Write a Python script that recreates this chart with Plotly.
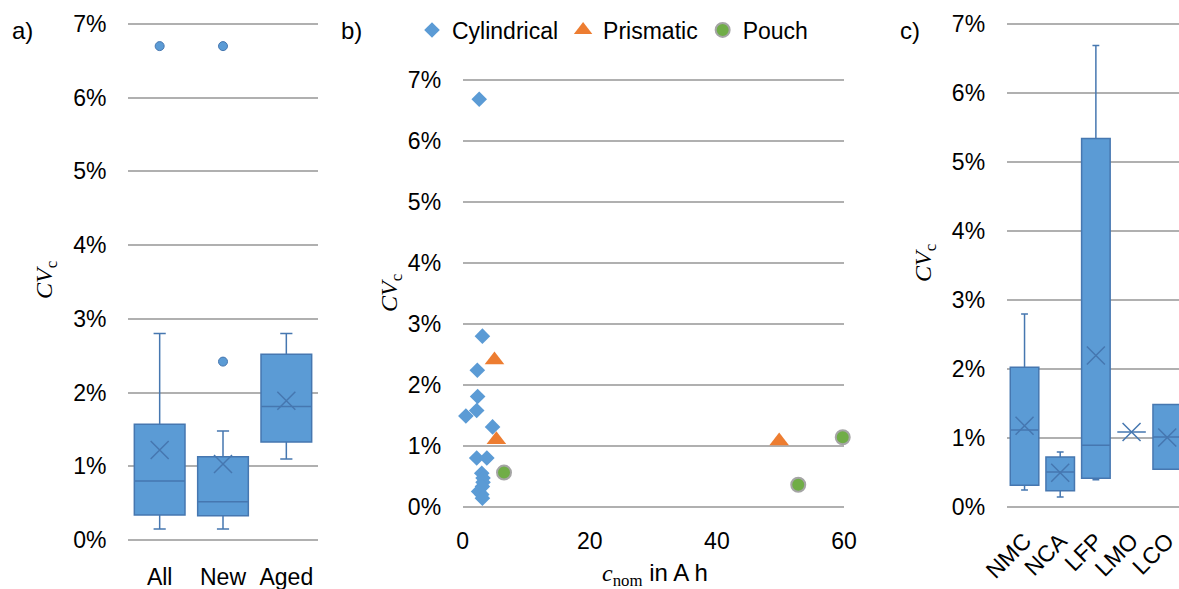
import plotly.graph_objects as go

# ---- Panel a: CV_c by cell state (box statistics, in %) ----
state_cats = ["All", "New", "Aged"]
state_q1 = [0.34, 0.33, 1.33]
state_median = [0.80, 0.52, 1.81]
state_q3 = [1.57, 1.13, 2.52]
state_low = [0.15, 0.15, 1.10]
state_high = [2.80, 1.48, 2.80]
state_mean = [1.22, 1.03, 1.89]
state_outlier_cat = ["All", "New", "New"]
state_outlier_val = [6.70, 2.42, 6.70]

# ---- Panel b: CV_c vs nominal capacity by cell format ----
cyl_cap = [2.6, 3.1, 2.3, 2.35, 2.2, 0.5, 4.7, 2.2, 3.8, 3.0, 3.2, 3.2, 3.1, 2.5, 3.0, 3.1]
cyl_cv = [6.69, 2.80, 2.24, 1.81, 1.58, 1.49, 1.31, 0.80, 0.80, 0.55, 0.47, 0.40, 0.33, 0.25, 0.20, 0.14]
pri_cap = [5.0, 5.3, 49.8]
pri_cv = [2.41, 1.10, 1.08]
pou_cap = [6.5, 52.8, 59.8]
pou_cv = [0.56, 0.36, 1.14]

# ---- Panel c: CV_c by cathode chemistry (box statistics, in %) ----
chem_cats = ["NMC", "NCA", "LFP", "LMO", "LCO"]
chem_q1 = [0.32, 0.24, 0.42, 1.09, 0.55]
chem_median = [1.12, 0.51, 0.90, 1.09, 1.02]
chem_q3 = [2.03, 0.73, 5.34, 1.09, 1.49]
chem_low = [0.25, 0.15, 0.40, 1.09, 0.55]
chem_high = [2.80, 0.80, 6.69, 1.09, 1.49]
chem_mean = [1.18, 0.50, 2.20, 1.09, 1.01]

y_ticks = [0, 1, 2, 3, 4, 5, 6, 7]
y_tick_text = ["0%", "1%", "2%", "3%", "4%", "5%", "6%", "7%"]
cap_ticks = [0, 20, 40, 60]

BLUE = "#5B9BD5"
BLUE_LINE = "#4677B0"
ORANGE = "#ED7D31"
GREEN = "#70AD47"
GRID = "#B0B0B0"
SANS = "Arial, Liberation Sans, sans-serif"
SERIF = "Liberation Serif, Times New Roman, serif"
W, H = 1179, 589
FS = 23
PAD = 0.03  # small range padding so the 0% and 7% grid lines are drawn


def px_x(v):
    return v / W


def px_y(v):
    return 1 - v / H


def y_domain(py0, py7):
    """Domain placing 0% at pixel row py0 and 7% at py7, with padded range."""
    per = (py0 - py7) / 7.0
    return [px_y(py0 + PAD * per), px_y(py7 - PAD * per)]


fig = go.Figure()

# panel a boxes
fig.add_trace(go.Box(
    x=state_cats, q1=state_q1, median=state_median, q3=state_q3,
    lowerfence=state_low, upperfence=state_high,
    boxpoints=False, width=0.8, whiskerwidth=0.24,
    fillcolor=BLUE, line=dict(color=BLUE_LINE, width=1.5),
    xaxis="x", yaxis="y", showlegend=False, hoverinfo="skip"))
fig.add_trace(go.Scatter(
    x=state_cats, y=state_mean, mode="markers",
    marker=dict(symbol="x-thin-open", size=18, color=BLUE_LINE,
                line=dict(color=BLUE_LINE, width=1.5)),
    xaxis="x", yaxis="y", showlegend=False, cliponaxis=False))
fig.add_trace(go.Scatter(
    x=state_outlier_cat, y=state_outlier_val, mode="markers",
    marker=dict(symbol="circle", size=9, color=BLUE, line=dict(color=BLUE_LINE, width=1)),
    xaxis="x", yaxis="y", showlegend=False, cliponaxis=False))

# panel b scatter
fig.add_trace(go.Scatter(
    x=cyl_cap, y=cyl_cv, mode="markers", name="Cylindrical",
    marker=dict(symbol="diamond", size=12, color=BLUE),
    xaxis="x2", yaxis="y2", cliponaxis=False))
fig.add_trace(go.Scatter(
    x=pri_cap, y=pri_cv, mode="markers", name="Prismatic",
    marker=dict(symbol="triangle-up", size=17, color=ORANGE),
    xaxis="x2", yaxis="y2", cliponaxis=False))
fig.add_trace(go.Scatter(
    x=pou_cap, y=pou_cv, mode="markers", name="Pouch",
    marker=dict(symbol="circle", size=14, color=GREEN, line=dict(color="#A5A5A5", width=2)),
    xaxis="x2", yaxis="y2", cliponaxis=False))

# panel c boxes
fig.add_trace(go.Box(
    x=chem_cats, q1=chem_q1, median=chem_median, q3=chem_q3,
    lowerfence=chem_low, upperfence=chem_high,
    boxpoints=False, width=0.8, whiskerwidth=0.24,
    fillcolor=BLUE, line=dict(color=BLUE_LINE, width=1.5),
    xaxis="x3", yaxis="y3", showlegend=False, hoverinfo="skip"))
fig.add_trace(go.Scatter(
    x=chem_cats, y=chem_mean, mode="markers",
    marker=dict(symbol="x-thin-open", size=18, color=BLUE_LINE,
                line=dict(color=BLUE_LINE, width=1.5)),
    xaxis="x3", yaxis="y3", showlegend=False))

tick_font = dict(family=SANS, size=FS, color="black")
yaxis_common = dict(
    range=[-PAD, 7 + PAD], tickmode="array", tickvals=y_ticks, ticktext=y_tick_text,
    showgrid=True, gridcolor=GRID, gridwidth=1.5, zeroline=False, showline=False,
    ticks="outside", ticklen=16, tickcolor="rgba(0,0,0,0)", tickfont=tick_font,
    automargin=False)

fig.update_layout(
    width=W, height=H,
    margin=dict(l=0, r=0, t=0, b=0, pad=0, autoexpand=False),
    paper_bgcolor="white", plot_bgcolor="white",
    xaxis=dict(domain=[px_x(128), px_x(318)], type="category",
               categoryorder="array", categoryarray=state_cats, range=[-0.5, 2.5],
               showgrid=False, zeroline=False, showline=False, ticks="outside",
               ticklen=14, tickcolor="rgba(0,0,0,0)", tickfont=tick_font,
               automargin=False),
    yaxis=dict(domain=y_domain(540, 24), anchor="x", **yaxis_common),
    xaxis2=dict(domain=[px_x(462.7), px_x(844)], range=[0, 60], tickmode="array",
                tickvals=cap_ticks, showgrid=False, zeroline=False, showline=False,
                ticks="outside", ticklen=12, tickcolor="rgba(0,0,0,0)",
                tickfont=tick_font, anchor="y2", automargin=False),
    yaxis2=dict(domain=y_domain(506.7, 80.3), anchor="x2", **yaxis_common),
    xaxis3=dict(domain=[px_x(1006.7), 1.0], type="category",
                categoryorder="array", categoryarray=chem_cats, range=[-0.5, 4.33],
                showgrid=False, zeroline=False, showline=False, tickangle=-45,
                ticks="outside", ticklen=8, tickcolor="rgba(0,0,0,0)",
                tickfont=tick_font, anchor="y3", automargin=False),
    yaxis3=dict(domain=y_domain(507.3, 24), anchor="x3", **yaxis_common),
    legend=dict(orientation="h", x=px_x(412), y=px_y(30), xanchor="left",
                yanchor="middle", font=dict(family=SANS, size=FS, color="black"),
                bgcolor="rgba(0,0,0,0)", itemsizing="trace", tracegroupgap=0),
)

for text, cx in [("a)", 22), ("b)", 351), ("c)", 910)]:
    fig.add_annotation(xref="paper", yref="paper", showarrow=False, text=text,
                       x=px_x(cx), y=px_y(30), xanchor="center", yanchor="middle",
                       font=dict(family=SANS, size=24, color="black"))

cv_title = "<i>CV</i><sub>c</sub>"
for (cx, cy) in [(46, 280), (391, 293), (925, 263)]:
    fig.add_annotation(xref="paper", yref="paper", showarrow=False, text=cv_title,
                       textangle=-90, x=px_x(cx), y=px_y(cy),
                       xanchor="center", yanchor="middle",
                       font=dict(family=SERIF, size=24, color="black"))

fig.add_annotation(
    xref="paper", yref="paper", showarrow=False,
    text='<span style="font-family:Liberation Serif"><i>c</i><sub>nom</sub></span> in A h',
    x=px_x(655), y=px_y(574), xanchor="center", yanchor="middle",
    font=dict(family=SANS, size=24, color="black"))

fig.write_html("out.html")
